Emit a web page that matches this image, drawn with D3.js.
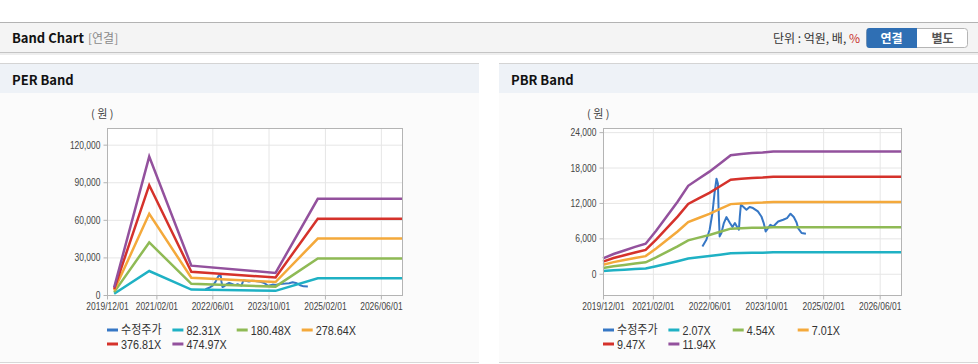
<!DOCTYPE html>
<html>
<head>
<meta charset="utf-8">
<script src="https://cdn.jsdelivr.net/npm/d3@7"></script>
<style>
body{margin:0;background:#fff;}
svg{display:block;font-family:"Liberation Sans",Arial,sans-serif;}
.kr{font-family:"Noto Sans CJK KR","Noto Sans",sans-serif;}
</style>
</head>
<body>
<svg id="chart" width="978" height="364"></svg>
<script>
// x axis
var xDomain = ["2019/12/01", "2026/12/01"];
var xTickLabels = ["2019/12/01", "2021/02/01", "2022/06/01", "2023/10/01", "2025/02/01", "2026/06/01"];

// 수정주가 (same series in both charts)
var priceDates = ["2022/04/02","2022/05/06","2022/06/03","2022/06/27","2022/07/15","2022/08/01","2022/08/13",
    "2022/08/19","2022/08/28","2022/09/12","2022/10/03","2022/10/25","2022/11/24","2022/12/16","2023/01/06",
    "2023/01/25","2023/02/09","2023/02/17","2023/02/26","2023/03/16","2023/04/15","2023/05/12","2023/06/10",
    "2023/07/22","2023/08/21","2023/09/10","2023/09/27","2023/10/17","2023/11/06","2023/12/01","2024/01/12",
    "2024/02/24","2024/03/28","2024/04/27","2024/05/25","2024/06/18","2024/07/01","2024/07/31","2024/09/06"];
var priceValues = [4630, 5760, 7460, 10290, 13680, 16100, 15300, 10850, 6330, 6900, 8590, 9610, 8590, 7920, 8590,
    7920, 7460, 9710, 11700, 11410, 10850, 11300, 11130, 10560, 9710, 8590, 7170, 7740, 8300, 8020, 8860,
    9150, 9440, 10170, 9610, 8700, 7740, 6900, 6780];

// PER band
var perNames = ["82.31X", "180.48X", "278.64X", "376.81X", "474.97X"];
var perDates = ["2020/02/01", "2020/12/01", "2021/12/01", "2023/12/01", "2024/12/01", "2026/12/01"];
var per1 = [1050, 19150, 4300, 3300, 13300, 13300];
var per2 = [2290, 41980, 8890, 6690, 29180, 29180];
var per3 = [3540, 64810, 13730, 10320, 45060, 45060];
var per4 = [4790, 87650, 18570, 13960, 60930, 60930];
var per5 = [6030, 110480, 23400, 17600, 76800, 76800];

// PBR band
var pbrNames = ["2.07X", "4.54X", "7.01X", "9.47X", "11.94X"];
var pbrDates = ["2019/12/01","2020/03/01","2020/06/01","2020/09/01","2020/12/01","2021/03/01","2021/06/01",
    "2021/09/01","2021/12/01","2022/03/01","2022/06/01","2022/09/01","2022/12/01","2023/03/01","2023/06/01",
    "2023/09/01","2023/12/01","2026/12/01"];
var pbr1 = [450, 580, 690, 790, 880, 1270, 1690, 2120, 2580, 2790, 3000, 3240, 3490, 3520, 3550, 3560, 3650, 3650];
var pbr2 = [990, 1270, 1500, 1730, 1940, 2780, 3710, 4640, 5670, 6120, 6580, 7110, 7640, 7720, 7780, 7810, 7900, 7900];
var pbr3 = [1530, 1970, 2320, 2670, 2990, 4290, 5720, 7160, 8750, 9450, 10160, 10980, 11800, 11920, 12010, 12070, 12180, 12180];
var pbr4 = [2060, 2660, 3130, 3610, 4050, 5790, 7730, 9680, 11820, 12770, 13720, 14830, 15940, 16100, 16220, 16300, 16450, 16450];
var pbr5 = [2600, 3350, 3950, 4550, 5100, 7300, 9750, 12200, 14900, 16100, 17300, 18700, 20100, 20300, 20450, 20550, 20730, 20730];

var colors = ["#3677c5", "#1fb1c4", "#8fba55", "#f4a93b", "#d5322b", "#93519d"];
var parseDate = d3.timeParse("%Y/%m/%d");

var svg = d3.select("#chart");

// squeeze text horizontally (the original uses a narrow bitmap font)
function condense(sel, f){
    sel.each(function(){
        var l = this.getComputedTextLength();
        d3.select(this).attr("textLength", l * f).attr("lengthAdjust", "spacingAndGlyphs");
    });
}

// top header
svg.append("rect").attr("x", 0).attr("y", 22).attr("width", 978).attr("height", 1).attr("fill", "#b3b3b3");
svg.append("rect").attr("x", 0).attr("y", 23).attr("width", 978).attr("height", 29).attr("fill", "#f4f4f4");
svg.append("rect").attr("x", 0).attr("y", 52).attr("width", 978).attr("height", 1).attr("fill", "#c4c4c4");
svg.append("rect").attr("x", 0).attr("y", 53).attr("width", 978).attr("height", 2).attr("fill", "#eeeeee");
svg.append("text").attr("class", "kr").attr("x", 12).attr("y", 43)
   .attr("font-size", "13px").attr("font-weight", "bold").attr("fill", "#111").text("Band Chart");
svg.append("text").attr("class", "kr").attr("x", 88).attr("y", 43)
   .attr("font-size", "12px").attr("fill", "#8a8a8a").text("[연결]");
var unit = svg.append("text").attr("class", "kr").attr("x", 860).attr("y", 43)
   .attr("text-anchor", "end").attr("font-size", "12px").attr("fill", "#333");
unit.append("tspan").text("단위 : 억원, 배, ");
unit.append("tspan").attr("fill", "#c8312b").text("%");

// buttons
svg.append("rect").attr("x", 866.5).attr("y", 28.5).attr("width", 101).attr("height", 19).attr("rx", 3)
   .attr("fill", "#fff").attr("stroke", "#b5b5b5");
svg.append("path").attr("d", "M917,28 H869.5 A3,3 0 0 0 866.5,31 V45 A3,3 0 0 0 869.5,48 H917 Z").attr("fill", "#2f6fb4");
svg.append("text").attr("class", "kr").attr("x", 891.5).attr("y", 42.5).attr("text-anchor", "middle")
   .attr("font-size", "12px").attr("font-weight", "bold").attr("fill", "#fff").text("연결");
svg.append("text").attr("class", "kr").attr("x", 942.5).attr("y", 42.5).attr("text-anchor", "middle")
   .attr("font-size", "12px").attr("font-weight", "bold").attr("fill", "#555").text("별도");

// panels
function panel(x0, title){
    svg.append("rect").attr("x", x0).attr("y", 63).attr("width", 479).attr("height", 1).attr("fill", "#d4d4d4");
    svg.append("rect").attr("x", x0).attr("y", 64).attr("width", 479).attr("height", 29).attr("fill", "#eef2f7");
    svg.append("rect").attr("x", x0).attr("y", 93).attr("width", 479).attr("height", 269).attr("fill", "#fbfbfb");
    svg.append("rect").attr("x", x0).attr("y", 362).attr("width", 479).attr("height", 1).attr("fill", "#d8d8d8");
    svg.append("text").attr("class", "kr").attr("x", x0 + 12).attr("y", 85)
       .attr("font-size", "13px").attr("font-weight", "bold").attr("fill", "#111").text(title);
}
panel(0, "PER Band");
panel(499, "PBR Band");

function drawBand(opt){
    var width = opt.width, height = opt.height;
    var g = svg.append("g").attr("transform", "translate(" + opt.left + "," + opt.top + ")");
    var xScale = d3.scaleTime().domain(xDomain.map(parseDate)).range([0, width]);
    var yScale = d3.scaleLinear().domain(opt.yDomain).range([height, 0]);
    var xTicks = xTickLabels.map(parseDate);

    g.append("rect").attr("width", width).attr("height", height).attr("fill", "#fff");

    // grid
    var gy = g.append("g").call(d3.axisLeft(yScale).tickValues(opt.yTicks).tickSize(-width).tickFormat(""));
    var gx = g.append("g").attr("transform", "translate(0," + height + ")")
              .call(d3.axisBottom(xScale).tickValues(xTicks).tickSize(-height).tickFormat(""));
    [gy, gx].forEach(function(a){
        a.select(".domain").remove();
        a.selectAll("line").attr("stroke", "#e6e6e6");
    });

    var line = d3.line().x(d => xScale(d[0])).y(d => yScale(d[1]));

    // price first, bands on top
    var price = priceDates.map((d, i) => [parseDate(d), priceValues[i]]);
    g.append("path").datum(price).attr("fill", "none").attr("stroke", colors[0])
     .attr("stroke-width", 2).attr("stroke-linejoin", "round").attr("d", line);

    var bDates = opt.dates.map(parseDate);
    opt.series.forEach(function(s, k){
        g.append("path").datum(s.map((v, i) => [bDates[i], v]))
         .attr("fill", "none").attr("stroke", colors[k + 1]).attr("stroke-width", 2.5)
         .attr("d", line);
    });

    // frame
    g.append("rect").attr("x", 0.5).attr("y", 0.5).attr("width", width).attr("height", height)
     .attr("fill", "none").attr("stroke", "#b4b4b4");

    // axes
    var ay = g.append("g").attr("transform", "translate(0.5,0)")
              .call(d3.axisLeft(yScale).tickValues(opt.yTicks).tickSize(4).tickPadding(3).tickFormat(d3.format(",")));
    var ax = g.append("g").attr("transform", "translate(0," + (height + 0.5) + ")")
              .call(d3.axisBottom(xScale).tickValues(xTicks).tickSize(4).tickPadding(3).tickFormat(d3.timeFormat("%Y/%m/%d")));
    [ay, ax].forEach(function(a){
        a.select(".domain").remove();
        a.selectAll("line").attr("stroke", "#b4b4b4");
        a.selectAll("text").attr("fill", "#444").attr("font-size", "11px")
         .attr("font-family", "\"Liberation Sans\",Arial,sans-serif");
        condense(a.selectAll("text"), 0.77);
    });

    g.append("text").attr("class", "kr").attr("x", -16).attr("y", -10)
     .attr("font-size", "11px").attr("fill", "#444").text("( 원 )");

    // legend
    var names = ["수정주가"].concat(opt.names);
    var colX = [0, 65.4, 129.7, 194.7];
    names.forEach(function(n, i){
        var lx = colX[i % 4], ly = 202 + Math.floor(i / 4) * 14;
        g.append("line").attr("x1", lx).attr("x2", lx + 11).attr("y1", ly).attr("y2", ly)
         .attr("stroke", colors[i]).attr("stroke-width", 3);
        var t = g.append("text").attr("class", i == 0 ? "kr" : null).attr("x", lx + 14).attr("y", ly).attr("dy", "0.36em")
         .attr("font-size", i == 0 ? "12px" : "13px").attr("fill", "#333").text(n);
        condense(t, i == 0 ? 0.92 : 0.83);
    });
}

drawBand({left: 107, top: 128, width: 295, height: 167,
          yDomain: [0, 133300], yTicks: [0, 30000, 60000, 90000, 120000],
          dates: perDates, series: [per1, per2, per3, per4, per5], names: perNames});
drawBand({left: 603, top: 128, width: 298, height: 167,
          yDomain: [-3600, 24700], yTicks: [0, 6000, 12000, 18000, 24000],
          dates: pbrDates, series: [pbr1, pbr2, pbr3, pbr4, pbr5], names: pbrNames});
</script>
</body>
</html>
